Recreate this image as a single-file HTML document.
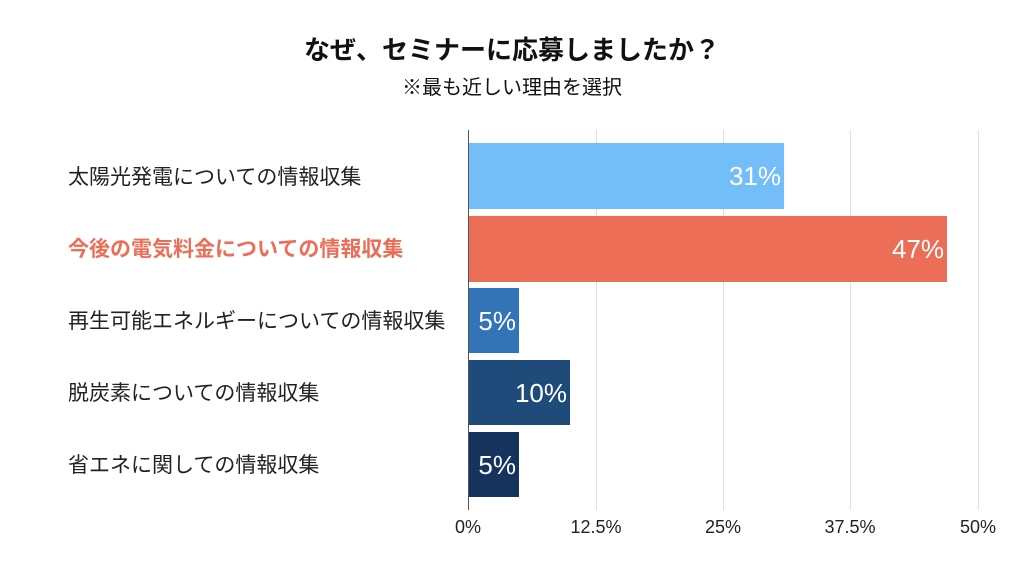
<!DOCTYPE html>
<html><head><meta charset="utf-8"><style>
body{margin:0;width:1024px;height:576px;background:#fff;font-family:"Liberation Sans","Noto Sans CJK JP",sans-serif;position:relative;overflow:hidden}
.a{position:absolute}
.t{left:0;width:1024px;text-align:center}
.g{width:1px;background:#dedede;top:130px;height:380px}
.bar{position:absolute;left:468px;color:#fff;font-size:26px;text-align:right;box-sizing:border-box;padding-right:3px;line-height:66px;height:66px}
.lab{left:68px;font-size:21px;color:#222;line-height:24px}
.tk{top:517px;font-size:18px;color:#222;width:80px;text-align:center}
</style></head><body>
<div class="a t" style="top:30px;font-size:26px;font-weight:bold;color:#111">なぜ、セミナーに応募しましたか？</div>
<div class="a t" style="top:71px;font-size:20px;color:#111">※最も近しい理由を選択</div>
<div class="a g" style="left:596px"></div>
<div class="a g" style="left:723px"></div>
<div class="a g" style="left:850px"></div>
<div class="a g" style="left:978px"></div>
<div class="bar" style="top:143px;width:316px;background:#73bdf8">31%</div>
<div class="bar" style="top:216px;width:479px;background:#ec6e57">47%</div>
<div class="bar" style="top:288px;width:51px;height:65px;background:#3373b7">5%</div>
<div class="bar" style="top:360px;width:102px;height:65px;background:#1f4b7b">10%</div>
<div class="bar" style="top:432px;width:51px;height:65px;background:#15335d">5%</div>
<div class="a" style="left:468px;top:130px;width:1px;height:380px;background:#555"></div>
<div class="a lab" style="top:166px">太陽光発電についての情報収集</div>
<div class="a lab" style="top:238px;color:#ec6e57;font-weight:bold">今後の電気料金についての情報収集</div>
<div class="a lab" style="top:310px">再生可能エネルギーについての情報収集</div>
<div class="a lab" style="top:382px">脱炭素についての情報収集</div>
<div class="a lab" style="top:454px">省エネに関しての情報収集</div>
<div class="a tk" style="left:428px">0%</div>
<div class="a tk" style="left:556px">12.5%</div>
<div class="a tk" style="left:683px">25%</div>
<div class="a tk" style="left:810px">37.5%</div>
<div class="a tk" style="left:938px">50%</div>
</body></html>
